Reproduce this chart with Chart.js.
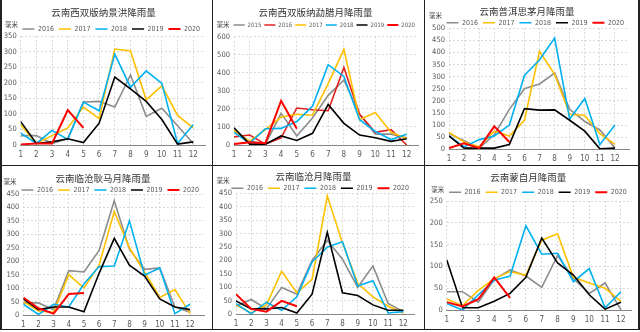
<!DOCTYPE html>
<html>
<head>
<meta charset="utf-8">
<script src="https://cdn.jsdelivr.net/npm/chart.js@4/dist/chart.umd.min.js"></script>
<style>
  body { margin: 0; background: #fff; }
  #sheet { position: relative; width: 640px; height: 332px; overflow: hidden; }
  .panel { position: absolute; }
  .rule { position: absolute; background: #222; }
</style>
</head>
<body>
<div id="sheet"></div>
<script>
const months = [1, 2, 3, 4, 5, 6, 7, 8, 9, 10, 11, 12];
const yearsA = ['2016', '2017', '2018', '2019', '2020'];
const yearsB = ['2015', '2016', '2017', '2018', '2019', '2020'];

// 景洪
const jh2016 = [30, 30, 5, 20, 138, 140, 122, 225, 92, 118, 62, 5];
const jh2017 = [65, 5, 30, 55, 122, 85, 308, 302, 145, 190, 95, 55];
const jh2018 = [38, 5, 47, 18, 138, 110, 292, 185, 238, 198, 5, 65];
const jh2019 = [75, 5, 10, 20, 8, 70, 218, 180, 140, 82, 3, 10];
const jh2020 = [2, 5, 5, 112, 55];
// 勐腊
const ml2015 = [80, 20, 5, 175, 50, 150, 275, 360, 170, 60, 60, 40];
const ml2016 = [45, 55, 5, 40, 205, 195, 190, 430, 170, 70, 85, 0];
const ml2017 = [80, 20, 85, 155, 170, 165, 340, 530, 140, 180, 70, 35];
const ml2018 = [70, 10, 90, 92, 130, 215, 445, 380, 140, 75, 30, 60];
const ml2019 = [95, 5, 5, 50, 25, 65, 225, 120, 55, 40, 20, 35];
const ml2020 = [5, 15, 10, 245, 90];
// 思茅
const sm2016 = [65, 35, 5, 60, 165, 250, 270, 315, 165, 115, 80, 5];
const sm2017 = [70, 30, 10, 75, 55, 120, 405, 310, 145, 140, 65, 20];
const sm2018 = [55, 10, 40, 55, 100, 305, 370, 460, 125, 210, 20, 100];
const sm2019 = [55, 5, 5, 5, 20, 168, 162, 163, 120, 75, 2, 5];
const sm2020 = [5, 25, 5, 95, 30];
// 耿马
const gm2016 = [45, 45, 20, 165, 160, 240, 425, 245, 170, 175, 30, 10];
const gm2017 = [50, 15, 10, 150, 100, 185, 385, 250, 160, 65, 95, 5];
const gm2018 = [40, 2, 40, 30, 115, 180, 182, 350, 148, 175, 5, 40];
const gm2019 = [60, 20, 30, 30, 12, 155, 285, 185, 145, 60, 30, 20];
const gm2020 = [65, 25, 5, 78, 82];
// 临沧
const lc2016 = [30, 55, 20, 100, 75, 200, 275, 205, 100, 180, 40, 10];
const lc2017 = [35, 5, 35, 160, 80, 130, 440, 265, 115, 65, 30, 5];
const lc2018 = [40, 2, 45, 15, 65, 195, 250, 270, 105, 125, 5, 10];
const lc2019 = [50, 20, 20, 25, 5, 75, 305, 80, 70, 35, 15, 15];
const lc2020 = [75, 20, 10, 50, 30];
// 蒙自
const mz2016 = [42, 42, 18, 70, 92, 78, 52, 125, 72, 38, 62, 0];
const mz2017 = [25, 10, 45, 72, 88, 80, 160, 175, 75, 62, 50, 20];
const mz2018 = [15, 0, 35, 68, 78, 193, 128, 130, 65, 95, 5, 42];
const mz2019 = [115, 5, 5, 20, 38, 75, 165, 108, 80, 35, 2, 18];
const mz2020 = [18, 8, 25, 75, 28];

const GRAY = '#8c8c8c', YELLOW = '#ffc000', CYAN = '#00b0f0', BLACK = '#000000', RED = '#ff0000', RED2 = '#e02020';
const colorsA = [GRAY, YELLOW, CYAN, BLACK, RED];
const colorsB = [GRAY, RED2, YELLOW, CYAN, BLACK, RED];

const NARROW = "'Liberation Sans Narrow', 'DejaVu Sans Condensed', Arial, sans-serif";
const CJK = "'Noto Sans CJK SC', sans-serif";

// box: [left, top, width, height]; area: [left, right, top, bottom] inside the box
const panels = [
  { title: '云南西双版纳景洪降雨量', years: yearsA, colors: colorsA, series: [jh2016, jh2017, jh2018, jh2019, jh2020],
    yMax: 350, yStep: 50, box: [2, 0, 210, 165], area: [18.7, 203, 36, 145], xMax: 12.75,
    titleY: 12.7, legendY: 29, legendFont: 7, legendPad: 5, boxW: 12, unit: [9.5, 24.5] },
  { title: '云南西双版纳勐腊月降雨量', years: yearsB, colors: colorsB, series: [ml2015, ml2016, ml2017, ml2018, ml2019, ml2020],
    yMax: 600, yStep: 100, box: [213, 0, 211, 165], area: [21, 205, 36.7, 145], xMax: 12.72,
    titleY: 12.7, legendY: 25, legendFont: 6, legendPad: 3, boxW: 11, unit: [10, 25] },
  { title: '云南普洱思茅月降雨量', years: yearsA, colors: colorsA, series: [sm2016, sm2017, sm2018, sm2019, sm2020],
    yMax: 500, yStep: 50, box: [425, 0, 213, 165], area: [24, 204, 28.3, 149.3], xMax: 12.93,
    titleY: 11.7, legendY: 22.7, legendFont: 7, legendPad: 5, boxW: 12, unit: [10.5, 16] },
  { title: '云南临沧耿马月降雨量', years: yearsA, colors: colorsA, series: [gm2016, gm2017, gm2018, gm2019, gm2020],
    yMax: 450, yStep: 50, box: [2, 166, 210, 163], area: [21.3, 202, 28, 149], xMax: 12.92,
    titleY: 12, legendY: 24, legendFont: 7, legendPad: 5, boxW: 12, unit: [8, 16] },
  { title: '云南临沧月降雨量', years: yearsA, colors: colorsA, series: [lc2016, lc2017, lc2018, lc2019, lc2020],
    yMax: 450, yStep: 50, box: [213, 166, 211, 163], area: [23, 201, 27.3, 148.3], xMax: 12.7,
    titleY: 10.7, legendY: 22.3, legendFont: 7, legendPad: 5, boxW: 12, unit: [10, 15] },
  { title: '云南蒙自月降雨量', years: yearsA, colors: colorsA, series: [mz2016, mz2017, mz2018, mz2019, mz2020],
    yMax: 250, yStep: 50, box: [425, 166, 213, 163], area: [21.7, 206.7, 35, 144], xMax: 12.68,
    titleY: 11.7, legendY: 26.3, legendFont: 7, legendPad: 5, boxW: 12, unit: [12.7, 24] }
];

const sheet = document.getElementById('sheet');

// frame lines between the panels
[[0, 0, 2, 330], [211.5, 0, 1.8, 330], [423.5, 0, 1.8, 330], [637.5, 0, 2, 330],
 [0, 164.5, 640, 1.8], [0, 328.5, 640, 1.8]].forEach(r => {
  const d = document.createElement('div');
  d.className = 'rule';
  Object.assign(d.style, { left: r[0] + 'px', top: r[1] + 'px', width: r[2] + 'px', height: r[3] + 'px' });
  sheet.appendChild(d);
});

// small "毫米" unit caption above the value axis
const unitLabel = {
  id: 'unitLabel',
  afterDraw(chart, args, opts) {
    const ctx = chart.ctx;
    ctx.save();
    ctx.font = '6.5px ' + CJK;
    ctx.fillStyle = '#404040';
    ctx.textAlign = 'center';
    ctx.textBaseline = 'middle';
    ctx.fillText('毫米', opts.x, opts.y);
    ctx.restore();
  }
};

function makePanel(p) {
  const [bx, by, W, H] = p.box;
  const [left, right, top, bottom] = p.area;
  const wrap = document.createElement('div');
  wrap.className = 'panel';
  Object.assign(wrap.style, { left: bx + 'px', top: by + 'px', width: W + 'px', height: H + 'px' });
  const canvas = document.createElement('canvas');
  wrap.appendChild(canvas);
  sheet.appendChild(wrap);

  const titleSize = 9.5;
  const titleTop = p.titleY - titleSize / 2;
  const titleBottom = p.legendY - p.titleY - titleSize / 2 - p.legendPad - p.legendFont / 2;
  const legendTop = p.titleY + titleSize / 2 + titleBottom;
  const n = p.series.length;

  new Chart(canvas, {
    type: 'line',
    data: {
      labels: months,
      datasets: p.series.map((vals, i) => ({
        label: p.years[i],
        data: vals,
        borderColor: p.colors[i],
        backgroundColor: p.colors[i],
        borderWidth: i === n - 1 ? 2 : 1.6,
        pointRadius: 0,
        pointStyle: 'line',
        tension: 0,
        fill: false,
        order: n - 1 - i
      }))
    },
    plugins: [unitLabel],
    options: {
      responsive: true,
      maintainAspectRatio: false,
      animation: false,
      layout: { padding: { left: 0, right: W - right, top: 0, bottom: 0 } },
      plugins: {
        title: {
          display: true,
          text: p.title,
          color: '#333333',
          font: { family: CJK, size: titleSize, weight: 'normal', lineHeight: 1 },
          padding: { top: titleTop, bottom: titleBottom }
        },
        legend: {
          position: 'top',
          align: 'end',
          maxHeight: top - legendTop,
          labels: {
            usePointStyle: true,
            pointStyleWidth: p.boxW,
            color: '#595959',
            padding: p.legendPad,
            font: { family: NARROW, size: p.legendFont },
            sort: (a, b) => a.datasetIndex - b.datasetIndex
          }
        },
        tooltip: { enabled: false },
        unitLabel: { x: p.unit[0], y: p.unit[1] }
      },
      scales: {
        x: {
          type: 'linear',
          min: 1,
          max: p.xMax,
          afterFit: s => { s.height = H - bottom; },
          grid: { color: '#d9d9d9', lineWidth: 1, drawTicks: false },
          border: { display: true, color: '#868686', width: 1, dash: [2, 2] },
          ticks: {
            stepSize: 1,
            includeBounds: false,
            autoSkip: false,
            maxRotation: 0,
            padding: 5,
            color: '#595959',
            font: { family: NARROW, size: 8 }
          }
        },
        y: {
          min: 0,
          max: p.yMax,
          afterFit: s => { s.width = left; },
          grid: { color: '#d9d9d9', lineWidth: 1, drawTicks: false },
          border: { display: false, dash: [2, 2] },
          ticks: {
            stepSize: p.yStep,
            padding: 4,
            color: '#595959',
            font: { family: NARROW, size: 7.5 }
          }
        }
      }
    }
  });
}

panels.forEach(makePanel);
</script>
</body>
</html>
